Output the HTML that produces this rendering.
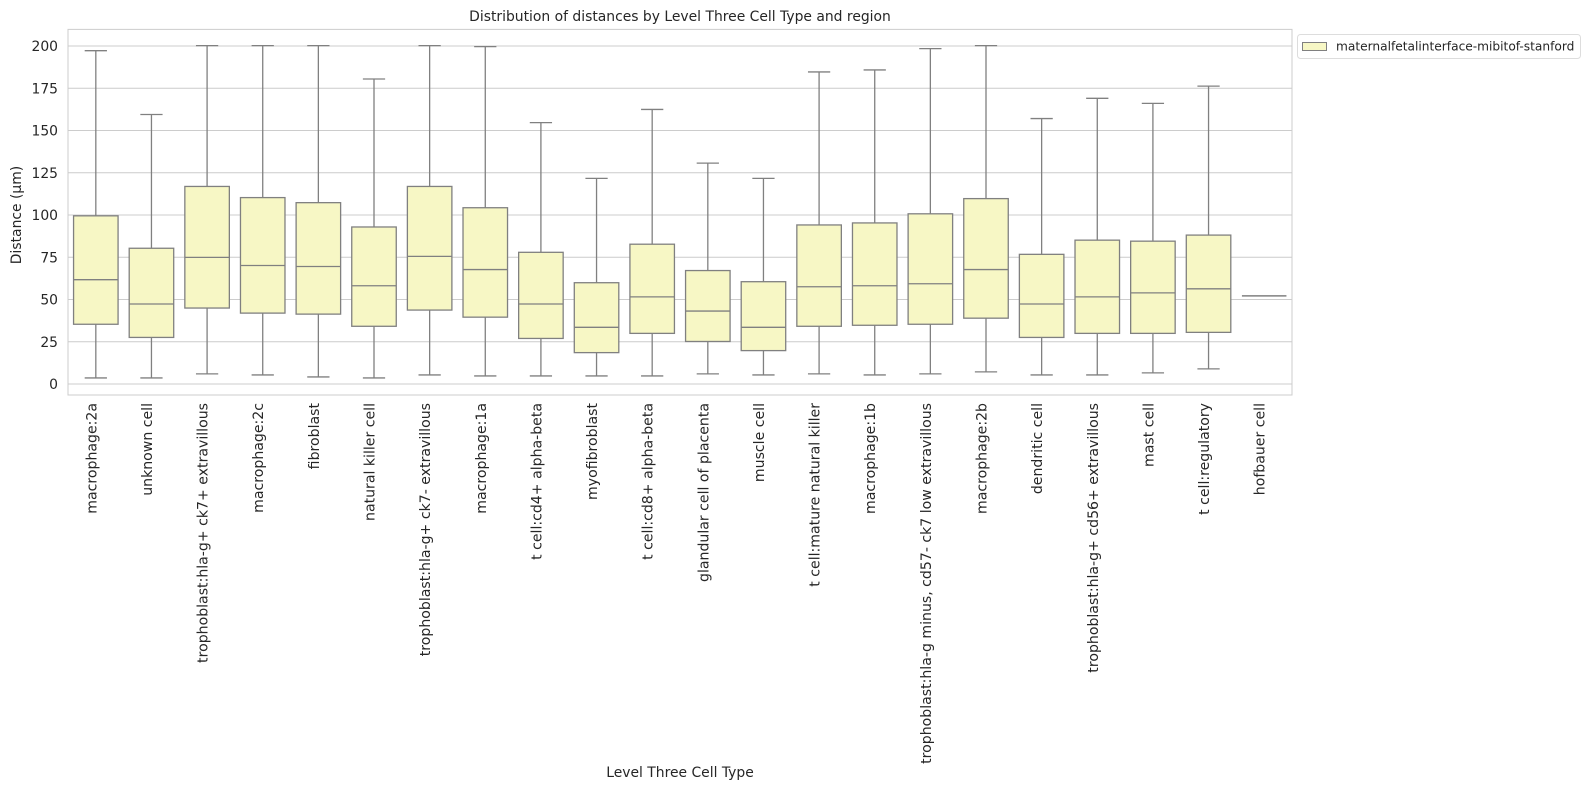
<!DOCTYPE html>
<html><head><meta charset="utf-8"><style>
body{margin:0;background:#fff;}
svg text{font-family:"DejaVu Sans","Liberation Sans",sans-serif;fill:#262626;}
</style></head><body>
<svg id="s" width="1591" height="791" xmlns="http://www.w3.org/2000/svg"></svg>
<script>
const s=document.getElementById('s');
const k=1.0133;
const L=68,R=1292,T=29*k,B=395;
const yv=v=>384-1.69*v;
let h='';
h+=`<rect x="${L}" y="${T}" width="${R-L}" height="${B-T}" fill="#fff" stroke="#ccc" stroke-width="1"/>`;
for(let v=0;v<=200;v+=25){const y=yv(v);h+=`<line x1="${L}" x2="${R}" y1="${y}" y2="${y}" stroke="#ccc" stroke-width="1"/>`;
h+=`<text x="${L-10}" y="${y+5}" font-size="13.9" text-anchor="end">${v}</text>`;}
const names=["macrophage:2a","unknown cell","trophoblast:hla-g+ ck7+ extravillous","macrophage:2c","fibroblast","natural killer cell","trophoblast:hla-g+ ck7- extravillous","macrophage:1a","t cell:cd4+ alpha-beta","myofibroblast","t cell:cd8+ alpha-beta","glandular cell of placenta","muscle cell","t cell:mature natural killer","macrophage:1b","trophoblast:hla-g minus, cd57- ck7 low extravillous","macrophage:2b","dendritic cell","trophoblast:hla-g+ cd56+ extravillous","mast cell","t cell:regulatory","hofbauer cell"];
const d=[[50,213,276,320,373],[113,245,300,333,373],[45,184,254,304,369],[45,195,262,309,370],[45,200,263,310,372],[78,224,282,322,373],[45,184,253,306,370],[46,205,266,313,371],[121,249,300,334,371],[176,279,323,348,371],[108,241,293,329,371],[161,267,307,337,369],[176,278,323,346,370],[71,222,283,322,369],[69,220,282,321,370],[48,211,280,320,369],[45,196,266,314,367],[117,251,300,333,370],[97,237,293,329,370],[102,238,289,329,368],[85,232,285,328,364]];
const sp=(R-L)/22,bw=sp*0.8,c='#808080';
for(let i=0;i<22;i++){
 const cx=L+sp*(i+0.5);
 if(i<21){const [t,q3,m,q1,b]=d[i].map(v=>v*k);
  h+=`<line x1="${cx}" x2="${cx}" y1="${t}" y2="${q3}" stroke="${c}" stroke-width="1.3"/>`;
  h+=`<line x1="${cx}" x2="${cx}" y1="${q1}" y2="${b}" stroke="${c}" stroke-width="1.3"/>`;
  h+=`<line x1="${cx-bw/4}" x2="${cx+bw/4}" y1="${t}" y2="${t}" stroke="${c}" stroke-width="1.3"/>`;
  h+=`<line x1="${cx-bw/4}" x2="${cx+bw/4}" y1="${b}" y2="${b}" stroke="${c}" stroke-width="1.3"/>`;
  h+=`<rect x="${cx-bw/2}" y="${q3}" width="${bw}" height="${q1-q3}" fill="#f7f7c5" stroke="${c}" stroke-width="1.3"/>`;
  h+=`<line x1="${cx-bw/2}" x2="${cx+bw/2}" y1="${m}" y2="${m}" stroke="${c}" stroke-width="1.3"/>`;
 } else {h+=`<line x1="${cx-bw/2}" x2="${cx+bw/2}" y1="${292*k}" y2="${292*k}" stroke="${c}" stroke-width="1.6"/>`;}
 h+=`<text transform="translate(${cx+0.5},${403}) rotate(-90)" font-size="14.1" text-anchor="end">${names[i]}</text>`;
}
h+=`<text x="680" y="21" font-size="13.9" text-anchor="middle">Distribution of distances by Level Three Cell Type and region</text>`;
h+=`<text x="680" y="777" font-size="13.9" text-anchor="middle">Level Three Cell Type</text>`;
h+=`<text transform="translate(21,${yv(100)}) rotate(-90)" font-size="13.9" text-anchor="middle">Distance (µm)</text>`;
h+=`<rect x="1297.5" y="34.5" width="283" height="24" rx="3" fill="#fff" stroke="#ddd"/>`;
h+=`<rect x="1302.5" y="42.5" width="24" height="8" fill="#f7f7c5" stroke="${c}"/>`;
h+=`<text x="1336" y="50.5" font-size="12.2">maternalfetalinterface-mibitof-stanford</text>`;
s.innerHTML=h;
</script>
</body></html>
